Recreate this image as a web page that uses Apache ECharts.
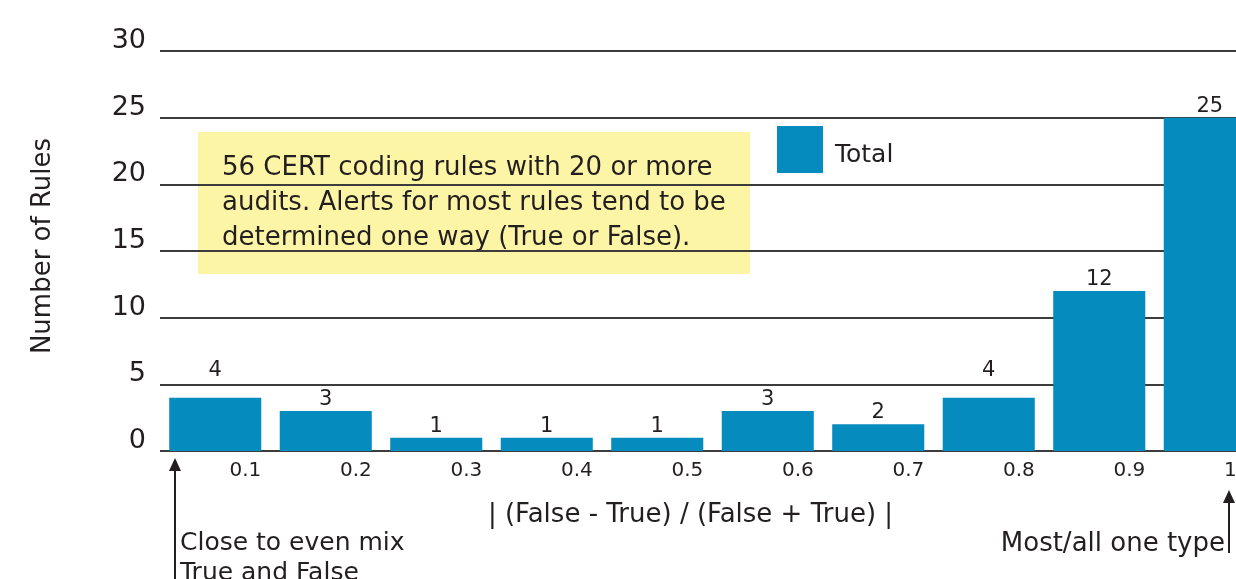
<!DOCTYPE html>
<html>
<head>
<meta charset="utf-8">
<script src="https://cdn.jsdelivr.net/npm/echarts@6/dist/echarts.min.js"></script>
<style>
  html, body { margin: 0; padding: 0; background: #fff; }
  #main { width: 1236px; height: 579px; }
</style>
</head>
<body>
<div id="main"></div>
<script>
// data
const categories = ['0.1', '0.2', '0.3', '0.4', '0.5', '0.6', '0.7', '0.8', '0.9', '1'];
const totals = [4, 3, 1, 1, 1, 3, 2, 4, 12, 25];
const yTicks = [0, 5, 10, 15, 20, 25, 30];

const barColor = '#058bbd';
const textColor = '#231f20';
const font = 'DejaVu Sans';

const chart = echarts.init(document.getElementById('main'));

// labels that would sit on a gridline get pushed above it
const barData = totals.map(v => {
  const near = v % 5 === 4;
  return { value: v, label: { distance: near ? 17 : 1 } };
});

const option = {
  animation: false,
  textStyle: { fontFamily: font, color: textColor },
  grid: { left: 160, top: 51, width: 1105, height: 400, outerBoundsMode: 'none' },
  legend: {
    data: ['Total'],
    left: 777,
    top: 126,
    padding: 0,
    itemWidth: 46,
    itemHeight: 47,
    itemGap: 10,
    formatter: '{t|{name}}',
    textStyle: {
      fontFamily: font,
      rich: { t: { fontSize: 25, color: textColor, fontFamily: font, padding: [12, 0, 0, 7] } }
    },
    icon: 'rect'
  },
  xAxis: {
    type: 'category',
    data: categories,
    axisLine: { show: false },
    axisTick: { show: false },
    axisLabel: {
      interval: 0,
      align: 'left',
      margin: 10,
      formatter: (v, i) => (i === categories.length - 1 ? '{e|' + v + '}' : '{a|' + v + '}'),
      rich: {
        a: { width: 46, align: 'right', fontSize: 20, color: textColor, fontFamily: font },
        e: { width: 27, align: 'right', fontSize: 20, color: textColor, fontFamily: font }
      }
    },
    name: '| (False - True) / (False + True) |',
    nameLocation: 'middle',
    nameGap: 51,
    nameTextStyle: { fontSize: 26, color: textColor, fontFamily: font, padding: [0, 44, 0, 0] }
  },
  yAxis: {
    type: 'value',
    min: yTicks[0],
    max: yTicks[yTicks.length - 1],
    interval: 5,
    axisLine: { show: false },
    axisTick: { show: false },
    splitLine: { lineStyle: { color: '#3c3c3c', width: 2 } },
    axisLabel: {
      fontSize: 27, color: textColor, margin: 14, fontFamily: font,
      verticalAlign: 'bottom', lineHeight: 20
    },
    name: 'Number of Rules',
    nameLocation: 'middle',
    nameGap: 104,
    nameTextStyle: { fontSize: 26, color: textColor, fontFamily: font, padding: [0, 0, 0, 10] }
  },
  series: [{
    name: 'Total',
    type: 'bar',
    data: barData,
    barCategoryGap: '16.7%',
    itemStyle: { color: barColor },
    z: 3,
    label: {
      show: true,
      position: 'top',
      fontSize: 21,
      color: textColor,
      fontFamily: font
    }
  }],
  graphic: [
    {
      type: 'group',
      left: 198,
      top: 132,
      z: 10,
      children: [
        { type: 'rect', shape: { x: 0, y: 0, width: 552, height: 142 }, style: { fill: '#fdf5a6' } },
        {
          type: 'text', left: 24, top: 19,
          style: {
            text: '56 CERT coding rules with 20 or more\naudits. Alerts for most rules tend to be\ndetermined one way (True or False).',
            fontSize: 26, lineHeight: 35, fill: textColor, fontFamily: font
          }
        }
      ]
    },
    // left annotation
    { type: 'line', shape: { x1: 175, y1: 470, x2: 175, y2: 579 }, style: { stroke: textColor, lineWidth: 2 }, z: 10 },
    { type: 'polygon', shape: { points: [[175, 458], [169, 471], [181, 471]] }, style: { fill: textColor }, z: 10 },
    {
      type: 'text', left: 180, top: 528, z: 10,
      style: { text: 'Close to even mix\nTrue and False', fontSize: 25, lineHeight: 30, fill: textColor, fontFamily: font }
    },
    // right annotation
    { type: 'line', shape: { x1: 1229, y1: 502, x2: 1229, y2: 553 }, style: { stroke: textColor, lineWidth: 2 }, z: 10 },
    { type: 'polygon', shape: { points: [[1229, 490], [1223, 503], [1235, 503]] }, style: { fill: textColor }, z: 10 },
    {
      type: 'text', right: 11, top: 531, z: 10,
      style: { text: 'Most/all one type', fontSize: 26, fill: textColor, fontFamily: font, align: 'right' }
    }
  ]
};

chart.setOption(option);
</script>
</body>
</html>
